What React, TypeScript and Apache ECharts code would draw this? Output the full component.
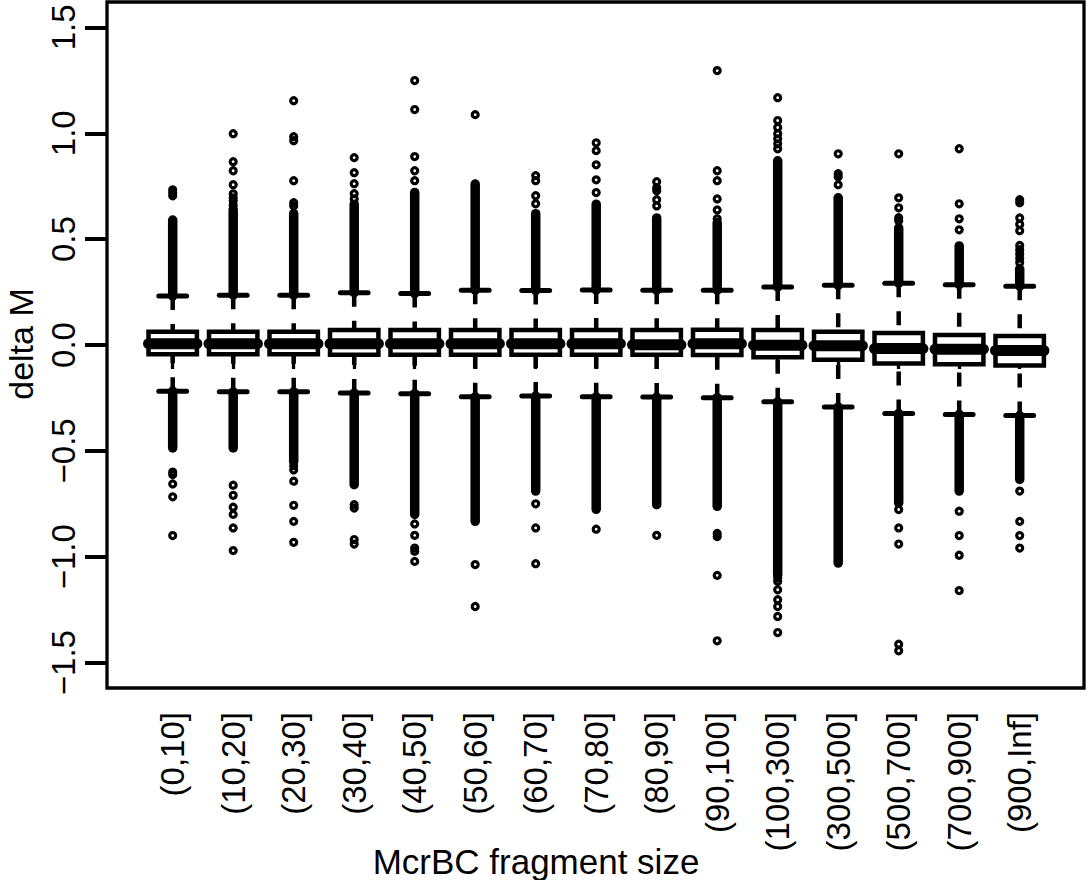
import React, { useEffect, useRef } from 'react';
import * as echarts from 'echarts';

const categories = ['(0,10]', '(10,20]', '(20,30]', '(30,40]', '(40,50]', '(50,60]', '(60,70]', '(70,80]', '(80,90]', '(90,100]', '(100,300]', '(300,500]', '(500,700]', '(700,900]', '(900,Inf]'];

const q1 = [-0.044, -0.044, -0.044, -0.046, -0.046, -0.046, -0.046, -0.046, -0.046, -0.047, -0.058, -0.07, -0.087, -0.091, -0.097];
const medians = [0.006, 0.006, 0.006, 0.006, 0.006, 0.006, 0.006, 0.006, 0.001, 0.006, -0.001, -0.003, -0.017, -0.02, -0.026];
const q3 = [0.063, 0.063, 0.063, 0.071, 0.071, 0.071, 0.071, 0.071, 0.071, 0.072, 0.071, 0.062, 0.057, 0.047, 0.043];
const upperWhisker = [0.232, 0.235, 0.235, 0.247, 0.243, 0.259, 0.257, 0.26, 0.259, 0.259, 0.274, 0.282, 0.292, 0.285, 0.278];
const lowerWhisker = [-0.218, -0.221, -0.221, -0.227, -0.23, -0.245, -0.241, -0.245, -0.246, -0.249, -0.268, -0.293, -0.323, -0.328, -0.333];
// dense runs of outliers (drawn as a solid stack of points) from the whisker end to these values
const upperDenseTo = [0.59, 0.639, 0.62, 0.665, 0.72, 0.76, 0.62, 0.665, 0.6, 0.577, 0.87, 0.695, 0.553, 0.468, 0.36];
const lowerDenseTo = [-0.486, -0.486, -0.55, -0.66, -0.8, -0.833, -0.69, -0.776, -0.754, -0.762, -1.085, -1.03, -0.746, -0.69, -0.635];

const upperOutliers: number[][] = [
  [0.705, 0.719, 0.733],
  [0.66, 0.681, 0.695, 0.714, 0.757, 0.823, 0.866, 0.998],
  [0.657, 0.672, 0.776, 0.965, 0.984, 1.154],
  [0.69, 0.715, 0.762, 0.814, 0.885],
  [0.776, 0.823, 0.89, 1.112, 1.249],
  [1.088],
  [0.667, 0.705, 0.776, 0.8],
  [0.72, 0.78, 0.851, 0.918, 0.955],
  [0.657, 0.686, 0.728, 0.743, 0.771],
  [0.596, 0.638, 0.69, 0.776, 0.823, 1.296],
  [0.927, 0.95, 0.974, 0.998, 1.027, 1.06, 1.168],
  [0.757, 0.795, 0.809, 0.903],
  [0.587, 0.601, 0.648, 0.695, 0.903],
  [0.544, 0.596, 0.667, 0.927],
  [0.39, 0.41, 0.43, 0.45, 0.47, 0.54, 0.57, 0.6, 0.672, 0.686],
];
const lowerOutliers: number[][] = [
  [-0.6, -0.612, -0.656, -0.717, -0.9],
  [-0.662, -0.71, -0.766, -0.8, -0.864, -0.971],
  [-0.57, -0.59, -0.643, -0.757, -0.833, -0.932],
  [-0.754, -0.77, -0.919, -0.94],
  [-0.845, -0.899, -0.959, -0.974, -1.022],
  [-1.037, -1.235],
  [-0.75, -0.864, -1.033],
  [-0.87],
  [-0.899],
  [-0.89, -0.905, -1.088, -1.397],
  [-1.1, -1.116, -1.156, -1.203, -1.235, -1.282, -1.358],
  [],
  [-0.777, -0.864, -0.94, -1.413, -1.444],
  [-0.785, -0.9, -0.993, -1.16],
  [-0.69, -0.833, -0.9, -0.959],
];

const yTicks = [-1.5, -1.0, -0.5, 0, 0.5, 1.0, 1.5];
const xTitle = 'McrBC fragment size';
const yTitle = 'delta M';

const FONT = "'Liberation Sans', Arial, Helvetica, sans-serif";

export default function App() {
  const ref = useRef<HTMLDivElement>(null);
  useEffect(() => {
    if (!ref.current) return;
    const chart = echarts.init(ref.current, undefined, { renderer: 'svg' });

    const boxData = categories.map((_, i) => [
      i, lowerWhisker[i], q1[i], medians[i], q3[i], upperWhisker[i], lowerDenseTo[i], upperDenseTo[i],
    ]);
    const outlierData: number[][] = [];
    categories.forEach((_, i) => {
      upperOutliers[i].forEach((v) => outlierData.push([i, v]));
      lowerOutliers[i].forEach((v) => outlierData.push([i, v]));
    });

    const gridLeft = 142.45;
    const gridWidth = 907.5;
    const frameLeft = 107;
    const frameRight = 1084;
    const top = 2;
    const height = 686;

    const renderItem = (params: any, api: any) => {
      const i = api.value(0);
      const lo = api.value(1);
      const qa = api.value(2);
      const md = api.value(3);
      const qb = api.value(4);
      const hi = api.value(5);
      const dLo = api.value(6);
      const dHi = api.value(7);
      const x = api.coord([i, 0])[0];
      const band = api.size([1, 0])[0];
      const y = (v: number) => api.coord([i, v])[1];
      const hw = band * 0.4;
      const sw = band * 0.23;
      const black = '#000';
      return {
        type: 'group',
        children: [
          { type: 'line', shape: { x1: x, y1: y(hi), x2: x, y2: y(dHi) }, style: { stroke: black, lineWidth: 9.5, lineCap: 'round' } },
          { type: 'line', shape: { x1: x, y1: y(lo), x2: x, y2: y(dLo) }, style: { stroke: black, lineWidth: 9.5, lineCap: 'round' } },
          { type: 'line', shape: { x1: x, y1: y(hi), x2: x, y2: y(qb) }, style: { stroke: black, lineWidth: 4.5, lineDash: [14, 14] } },
          { type: 'line', shape: { x1: x, y1: y(lo), x2: x, y2: y(qa) }, style: { stroke: black, lineWidth: 4.5, lineDash: [14, 14] } },
          { type: 'line', shape: { x1: x - sw, y1: y(hi), x2: x + sw, y2: y(hi) }, style: { stroke: black, lineWidth: 5, lineCap: 'round' } },
          { type: 'line', shape: { x1: x - sw, y1: y(lo), x2: x + sw, y2: y(lo) }, style: { stroke: black, lineWidth: 5, lineCap: 'round' } },
          { type: 'rect', shape: { x: x - hw, y: y(qb), width: 2 * hw, height: y(qa) - y(qb) }, style: { fill: '#fff', stroke: black, lineWidth: 4.5 } },
          { type: 'line', shape: { x1: x - hw, y1: y(md), x2: x + hw, y2: y(md) }, style: { stroke: black, lineWidth: 11, lineCap: 'round' } },
        ],
      };
    };

    chart.setOption({
      animation: false,
      backgroundColor: '#fff',
      grid: { left: gridLeft, width: gridWidth, top, height, containLabel: false },
      xAxis: {
        type: 'category',
        data: categories,
        boundaryGap: true,
        axisLine: { show: false },
        axisTick: { show: true, alignWithLabel: true, length: 24, lineStyle: { color: '#000', width: 3.3 } },
        axisLabel: { interval: 0, rotate: 90, margin: 24, color: '#000', fontSize: 33, fontFamily: FONT },
        splitLine: { show: false },
      },
      yAxis: {
        type: 'value',
        min: -1.62,
        max: 1.62,
        offset: gridLeft - frameLeft,
        axisLine: { show: false },
        axisTick: { show: true, length: 22, lineStyle: { color: '#000', width: 4 }, customValues: yTicks },
        axisLabel: {
          rotate: 90,
          margin: 27,
          color: '#000',
          fontSize: 33,
          fontFamily: FONT,
          customValues: yTicks,
          formatter: (v: number) => v.toFixed(1).replace('-', '\u2212'),
        },
        splitLine: { show: false },
      },
      graphic: [
        {
          type: 'rect',
          shape: { x: frameLeft, y: top, width: frameRight - frameLeft, height },
          style: { fill: 'none', stroke: '#000', lineWidth: 3.3 },
          z: 100,
          silent: true,
        },
        {
          type: 'text',
          x: 21,
          y: 344,
          rotation: Math.PI / 2,
          style: { text: yTitle, fill: '#000', font: `34px ${FONT}`, textAlign: 'center', textVerticalAlign: 'middle' },
        },
        {
          type: 'text',
          x: 536,
          y: 861,
          style: { text: xTitle, fill: '#000', font: `35px ${FONT}`, textAlign: 'center', textVerticalAlign: 'middle' },
        },
      ],
      series: [
        {
          type: 'custom',
          renderItem,
          data: boxData,
          encode: { x: 0, y: [1, 2, 3, 4, 5, 6, 7] },
          z: 2,
          silent: true,
        },
        {
          type: 'scatter',
          data: outlierData,
          symbol: 'circle',
          symbolSize: 6,
          itemStyle: { color: 'rgba(0,0,0,0)', borderColor: '#000', borderWidth: 3.2, opacity: 1 },
          z: 3,
          silent: true,
        },
      ],
    });
    return () => chart.dispose();
  }, []);
  return (
    <div
      ref={ref}
      style={{ position: 'absolute', left: 0, top: 0, width: 1087, height: 880, background: '#fff' }}
    />
  );
}
